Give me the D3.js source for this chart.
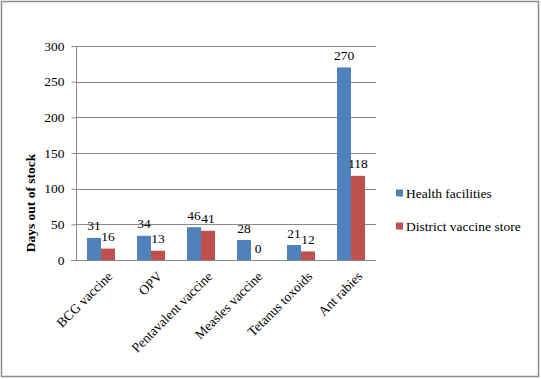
<!DOCTYPE html>
<html><head><meta charset="utf-8">
<script src="https://cdn.jsdelivr.net/npm/d3@7/dist/d3.min.js"></script>
</head><body style="margin:0;background:#fff">
<svg id="c" width="541" height="379"></svg>
<script>
const categories = ["BCG vaccine","OPV","Pentavalent vaccine","Measles vaccine","Tetanus toxoids","Ant rabies"];
const seriesNames = ["Health facilities","District vaccine store"];
const healthFacilities = [31,34,46,28,21,270];
const districtStore = [16,13,41,0,12,118];
const yTicks = [0,50,100,150,200,250,300];
const colors = ["#4F81BD","#C0504D"];

const svg = d3.select("#c").style("font-family",'"Liberation Serif"');
svg.append("rect").attr("x",1.5).attr("y",1.5).attr("width",537).attr("height",375)
  .attr("fill","#fff").attr("stroke","#8c8c8c").attr("stroke-width",1.5);

const m = {l:76, r:376, t:46, b:260};
const x = d3.scaleBand().domain(categories).range([m.l,m.r]).paddingInner(0.44).paddingOuter(0.22);
const xs = d3.scaleBand().domain(seriesNames).range([0,x.bandwidth()]);
const y = d3.scaleLinear().domain([0,300]).range([m.b,m.t]);

svg.append("g").selectAll("line").data(yTicks.filter(d=>d>0)).join("line")
  .attr("x1",m.l).attr("x2",m.r).attr("y1",d=>Math.round(y(d))+0.5).attr("y2",d=>Math.round(y(d))+0.5)
  .attr("stroke","#8a8a8a").attr("stroke-width",1);

const ya = svg.append("g").attr("transform",`translate(${m.l+0.5},0)`)
  .call(d3.axisLeft(y).tickValues(yTicks).tickSize(5).tickPadding(7));
ya.attr("font-family",null).attr("font-size",null);
ya.select(".domain").attr("stroke","#8a8a8a").attr("d",`M0,${m.t}V${m.b}`);
ya.selectAll(".tick line").attr("stroke","#8a8a8a");

const data = categories.map((c,i)=>({c, vals:[healthFacilities[i], districtStore[i]]}));
const groups = svg.append("g").selectAll("g").data(data).join("g")
  .attr("transform",d=>`translate(${x(d.c)},0)`);
groups.selectAll("rect").data(d=>d.vals.map((v,j)=>({v,s:seriesNames[j],j}))).join("rect")
  .attr("x",d=>xs(d.s)).attr("width",xs.bandwidth())
  .attr("y",d=>y(d.v)).attr("height",d=>m.b-y(d.v)).attr("fill",d=>colors[d.j]);
groups.selectAll("text").data(d=>d.vals.map((v,j)=>({v,s:seriesNames[j],j}))).join("text")
  .attr("x",d=>xs(d.s)+xs.bandwidth()/2).attr("y",d=>y(d.v)-7.5)
  .attr("text-anchor","middle").text(d=>d.v);

svg.append("line").attr("x1",m.l-5).attr("x2",m.r).attr("y1",m.b+0.5).attr("y2",m.b+0.5)
  .attr("stroke","#8a8a8a");

svg.append("g").selectAll("text").data(categories).join("text")
  .attr("transform",d=>`translate(${x(d)+x.bandwidth()/2+5},${m.b+10}) rotate(-45)`)
  .attr("text-anchor","end").attr("dy","0.75em").text(d=>d);

svg.append("text").attr("class","ytitle").attr("transform","translate(35,203) rotate(-90)")
  .attr("text-anchor","middle")
  .text("Days out of stock");

const lg = svg.append("g").selectAll("g").data(seriesNames).join("g")
  .attr("transform",(d,i)=>`translate(396,${193+i*33})`);
lg.append("rect").attr("x",0).attr("y",-3.5).attr("width",7).attr("height",7).attr("fill",(d,i)=>colors[i]);
lg.append("text").attr("x",10).attr("y",0).attr("dy","0.35em").text(d=>d);

svg.selectAll("text").style("font-family",'"Liberation Serif"').style("font-size","13.5px").style("fill","#000");
svg.select(".ytitle").style("font-weight","bold");
</script>
</body></html>
